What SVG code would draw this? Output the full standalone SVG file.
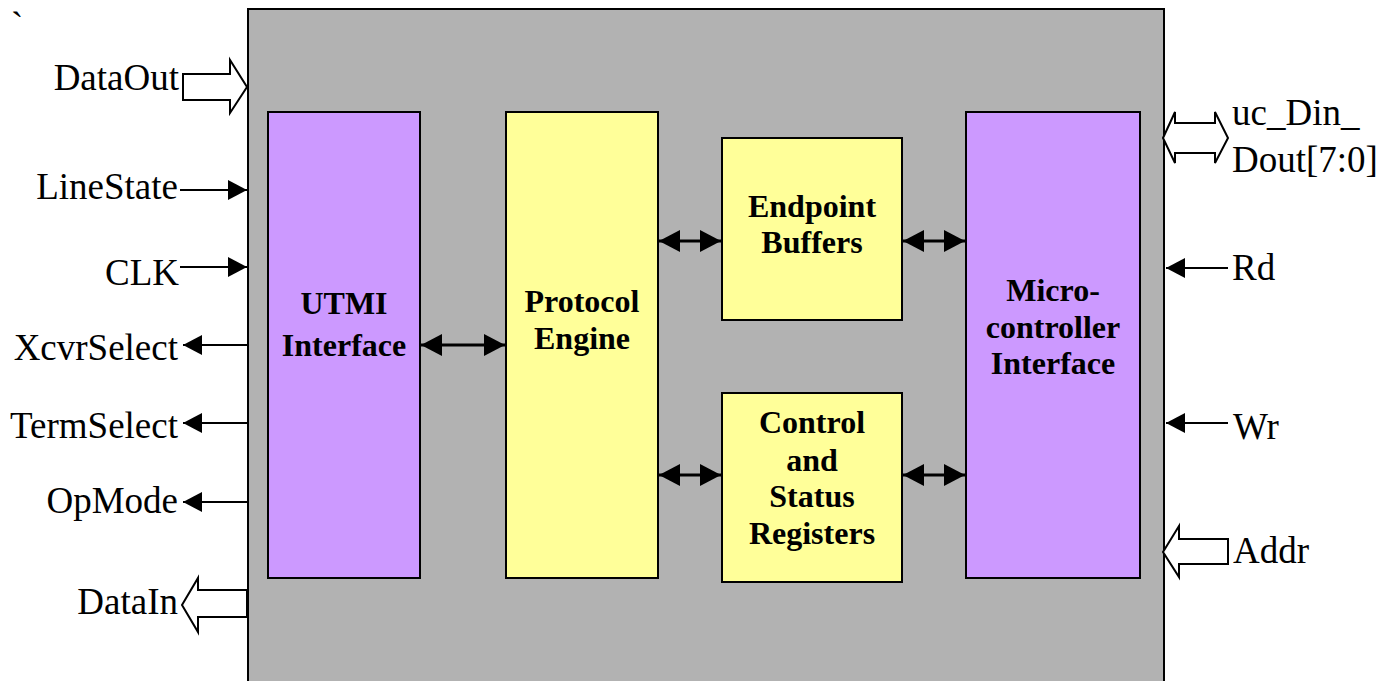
<svg xmlns="http://www.w3.org/2000/svg" width="1389" height="681" viewBox="0 0 1389 681">
<style>
.lbl{font-family:"Liberation Serif","Times New Roman",serif;font-size:37px;fill:#000}
.blk{font-family:"Liberation Serif","Times New Roman",serif;font-size:32px;font-weight:bold;fill:#000;text-anchor:middle}
.pur{fill:#CC99FF;stroke:#000;stroke-width:2}
.yel{fill:#FFFF99;stroke:#000;stroke-width:2}
.hol{fill:#fff;stroke:#000;stroke-width:2;stroke-linejoin:miter}
.bi{stroke:#000;stroke-width:3;fill:none}
.sig{stroke:#000;stroke-width:2;fill:none}
</style>
<defs>
<marker id="hb" markerUnits="userSpaceOnUse" markerWidth="21" markerHeight="22" refX="21" refY="11" orient="auto-start-reverse"><path d="M0,0 L21,11 L0,22 z" fill="#000"/></marker>
<marker id="hs" markerUnits="userSpaceOnUse" markerWidth="19" markerHeight="20" refX="19" refY="10" orient="auto"><path d="M0,0 L19,10 L0,20 z" fill="#000"/></marker>
</defs>
<rect width="1389" height="681" fill="#fff"/>
<text class="lbl" x="11" y="38">`</text>
<g id="chip"><rect x="248" y="9" width="916" height="690" fill="#B2B2B2" stroke="#000" stroke-width="2"/></g>
<g id="utmi"><rect class="pur" x="268" y="112" width="152" height="466"/><text class="blk" x="344" y="314">UTMI</text><text class="blk" x="344" y="356">Interface</text></g>
<g id="protocol"><rect class="yel" x="506" y="112" width="152" height="466"/><text class="blk" x="582" y="312">Protocol</text><text class="blk" x="582" y="349">Engine</text></g>
<g id="endpoint"><rect class="yel" x="722" y="138" width="180" height="182"/><text class="blk" x="812" y="217">Endpoint</text><text class="blk" x="812" y="253">Buffers</text></g>
<g id="csr"><rect class="yel" x="722" y="393" width="180" height="189"/><text class="blk" x="812" y="433">Control</text><text class="blk" x="812" y="471">and</text><text class="blk" x="812" y="507">Status</text><text class="blk" x="812" y="544">Registers</text></g>
<g id="micro"><rect class="pur" x="966" y="112" width="174" height="466"/><text class="blk" x="1053" y="301">Micro-</text><text class="blk" x="1053" y="338">controller</text><text class="blk" x="1053" y="374">Interface</text></g>
<g id="connectors">
<line class="bi" x1="421" y1="345" x2="505" y2="345" marker-start="url(#hb)" marker-end="url(#hb)"/>
<line class="bi" x1="659" y1="241" x2="721" y2="241" marker-start="url(#hb)" marker-end="url(#hb)"/>
<line class="bi" x1="659" y1="475" x2="721" y2="475" marker-start="url(#hb)" marker-end="url(#hb)"/>
<line class="bi" x1="903" y1="241" x2="965" y2="241" marker-start="url(#hb)" marker-end="url(#hb)"/>
<line class="bi" x1="903" y1="475" x2="965" y2="475" marker-start="url(#hb)" marker-end="url(#hb)"/>
<polygon class="hol" points="183,74 230,74 230,60 247,87 230,113 230,100 183,100"/>
<line class="sig" x1="180" y1="190" x2="247" y2="190" marker-end="url(#hs)"/>
<line class="sig" x1="180" y1="267" x2="247" y2="267" marker-end="url(#hs)"/>
<line class="sig" x1="247" y1="345" x2="183" y2="345" marker-end="url(#hs)"/>
<line class="sig" x1="247" y1="423" x2="183" y2="423" marker-end="url(#hs)"/>
<line class="sig" x1="247" y1="502" x2="183" y2="502" marker-end="url(#hs)"/>
<polygon class="hol" points="247,590 198,590 198,578 182,605 198,632 198,617 247,617"/>
<polygon class="hol" points="1163,138 1175,112 1175,123 1215,123 1215,112 1228,138 1215,163 1215,153 1175,153 1175,163"/>
<line class="sig" x1="1228" y1="268" x2="1166" y2="268" marker-end="url(#hs)"/>
<line class="sig" x1="1228" y1="423" x2="1166" y2="423" marker-end="url(#hs)"/>
<polygon class="hol" points="1163,552 1179,526 1179,539 1228,539 1228,564 1179,564 1179,577"/>
</g>
<g id="labels">
<text class="lbl" x="179" y="90" text-anchor="end">DataOut</text>
<text class="lbl" x="178" y="199" text-anchor="end">LineState</text>
<text class="lbl" x="179" y="285" text-anchor="end">CLK</text>
<text class="lbl" x="178" y="360" text-anchor="end">XcvrSelect</text>
<text class="lbl" x="178" y="438" text-anchor="end">TermSelect</text>
<text class="lbl" x="178" y="513" text-anchor="end">OpMode</text>
<text class="lbl" x="178" y="614" text-anchor="end">DataIn</text>
<text class="lbl" x="1232" y="125">uc_Din_</text>
<text class="lbl" x="1232" y="172">Dout[7:0]</text>
<text class="lbl" x="1232" y="280">Rd</text>
<text class="lbl" x="1233" y="439">Wr</text>
<text class="lbl" x="1233" y="563">Addr</text>
</g>
</svg>
